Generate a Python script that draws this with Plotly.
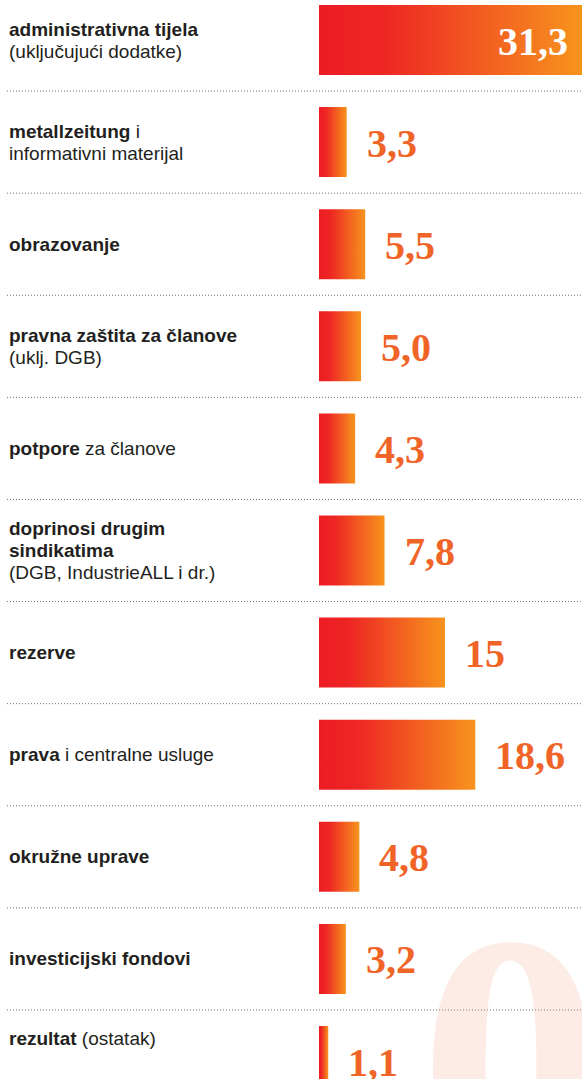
import plotly.graph_objects as go

categories = [
    "<b>administrativna tijela</b><br>(uključujući dodatke)",
    "<b>metallzeitung</b> i<br>informativni materijal",
    "<b>obrazovanje</b>",
    "<b>pravna zaštita za članove</b><br>(uklj. DGB)",
    "<b>potpore</b> za članove",
    "<b>doprinosi drugim<br>sindikatima</b><br>(DGB, IndustrieALL i dr.)",
    "<b>rezerve</b>",
    "<b>prava</b> i centralne usluge",
    "<b>okružne uprave</b>",
    "<b>investicijski fondovi</b>",
    "<b>rezultat</b> (ostatak)",
]
values = [31.3, 3.3, 5.5, 5.0, 4.3, 7.8, 15, 18.6, 4.8, 3.2, 1.1]
value_labels = ["31,3", "3,3", "5,5", "5,0", "4,3", "7,8", "15", "18,6", "4,8", "3,2", "1,1"]

W, H = 582, 1079
ROW_PX = 102.1
TOP_CENTER_PX = 40
HALF = 0.343
LINE_PX = 22
GRAD = [[0, "#ED1C24"], [0.25, "#EE2624"], [1, "#F7941D"]]
VAL_COLOR = "#F06428"
TXT_COLOR = "#231F20"


def split_lines(label):
    """Split a label on <br>, keeping <b> tags balanced on each line."""
    out, bold = [], False
    for part in label.split("<br>"):
        line = ("<b>" if bold else "") + part
        last_open, last_close = part.rfind("<b>"), part.rfind("</b>")
        if last_open > last_close:
            bold = True
        elif last_close > last_open:
            bold = False
        if bold:
            line += "</b>"
        out.append(line)
    return out


fig = go.Figure()

n = len(values)
for i, v in enumerate(values):
    fig.add_trace(go.Scatter(
        x=[0, v, v, 0, 0],
        y=[i - HALF, i - HALF, i + HALF, i + HALF, i - HALF],
        mode="lines", fill="toself", line=dict(width=0),
        fillgradient=dict(type="horizontal", colorscale=GRAD),
        hoverinfo="skip",
    ))

# decorative watermark (semi-transparent so the dotted rule shows through)
annotations = [dict(
    x=511 / W, xref="paper", y=1 - 1063 / H, yref="paper", text="0", showarrow=False,
    xanchor="center", yanchor="middle",
    font=dict(family="Liberation Serif", size=368, color="rgba(245,150,110,0.18)", weight="bold"),
)]
shapes = []
for i, (cat, v, lab) in enumerate(zip(categories, values, value_labels)):
    lines = split_lines(cat)
    m = len(lines)
    base_shift = 23 if i == n - 1 else 0
    for k, line in enumerate(lines):
        annotations.append(dict(
            x=0.012, xref="paper", y=i, yref="y", text=line, showarrow=False,
            xanchor="left", yanchor="middle", align="left",
            yshift=base_shift + ((m - 1) / 2 - k) * LINE_PX,
            font=dict(family="Liberation Sans, Arial, sans-serif", size=19, color=TXT_COLOR),
        ))
    inside = v >= 25
    annotations.append(dict(
        x=v, xref="x", y=i, yref="y", text=lab, showarrow=False,
        xanchor="right" if inside else "left", yanchor="middle",
        xshift=-12 if inside else 18, yshift=-1,
        font=dict(family="Liberation Serif, Times New Roman, serif", size=40,
                  color="white" if inside else VAL_COLOR, weight="bold"),
    ))
    if i < n - 1:
        shapes.append(dict(
            type="line", xref="paper", x0=0.012, x1=1, yref="y", y0=i + 0.5, y1=i + 0.5,
            line=dict(color="#6d6e71", width=1, dash="1px,2px"), layer="above",
        ))

y_top = -TOP_CENTER_PX / ROW_PX
y_bot = (H - TOP_CENTER_PX) / ROW_PX

fig.update_layout(
    width=W, height=H, margin=dict(l=0, r=0, t=0, b=0),
    paper_bgcolor="white", plot_bgcolor="white", showlegend=False,
    xaxis=dict(domain=[319 / W, 1], range=[0, 31.3], visible=False, fixedrange=True),
    yaxis=dict(range=[y_bot, y_top], visible=False, fixedrange=True),
    annotations=annotations, shapes=shapes,
)

fig.write_html(
    "out.html",
    config={"displayModeBar": False},
    post_script="document.body.style.margin='0';document.body.style.overflow='hidden';",
)
